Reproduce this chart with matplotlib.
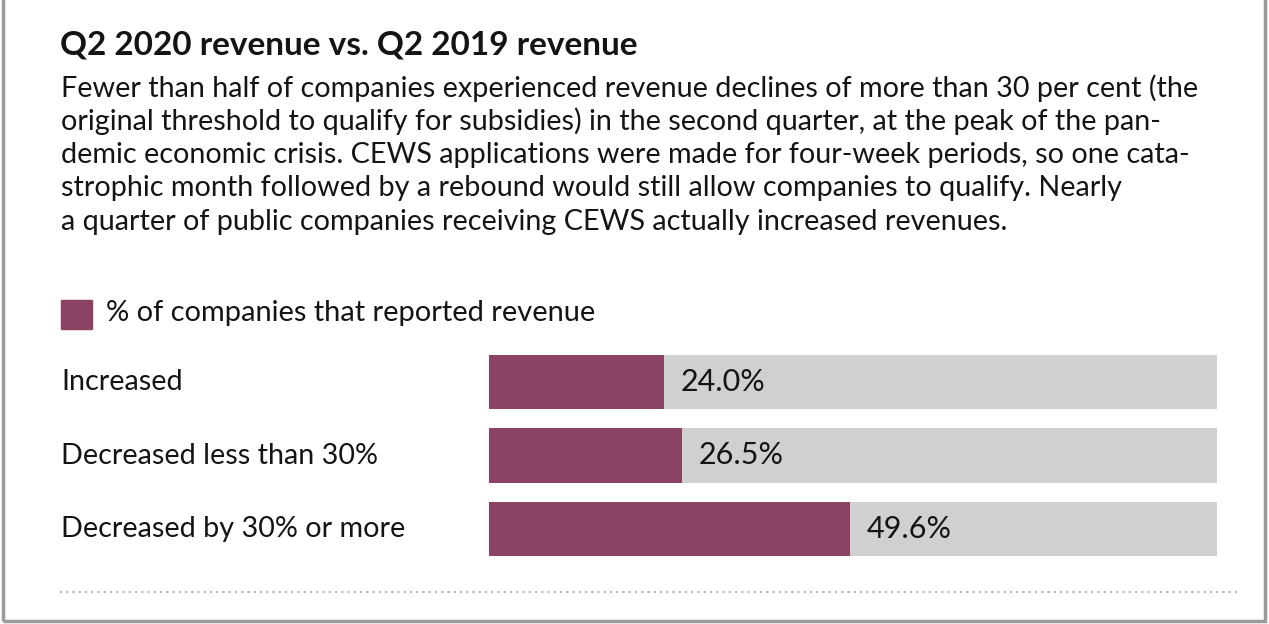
import matplotlib.pyplot as plt
from matplotlib.patches import Rectangle
from matplotlib.lines import Line2D

W, H = 1269, 624

title = "Q2 2020 revenue vs. Q2 2019 revenue"
blurb = [
    "Fewer than half of companies experienced revenue declines of more than 30 per cent (the",
    "original threshold to qualify for subsidies) in the second quarter, at the peak of the pan-",
    "demic economic crisis. CEWS applications were made for four-week periods, so one cata-",
    "strophic month followed by a rebound would still allow companies to qualify. Nearly",
    "a quarter of public companies receiving CEWS actually increased revenues.",
]
legend_label = "% of companies that reported revenue"
categories = ["Increased", "Decreased less than 30%", "Decreased by 30% or more"]
shares = [24.0, 26.5, 49.6]

bar_color = "#8c4363"
track_color = "#d0d0d0"
ink = "#141414"

plt.rcParams['font.family'] = ['Lato', 'DejaVu Sans']

fig = plt.figure(figsize=(W / 100, H / 100), dpi=100)
fig.patch.set_facecolor("white")


def fx(px):
    return px / W


def fy(py):
    return 1 - py / H


# frame around the card
fig.add_artist(Rectangle((fx(3), fy(621)), fx(1262), 621 / H + 0.02,
                         transform=fig.transFigure, fill=False,
                         edgecolor="#9a9a9a", linewidth=2.5))

fig.text(fx(60), fy(45), title, fontsize=24, fontweight="bold", color=ink, va="center")
for i, line in enumerate(blurb):
    fig.text(fx(61), fy(88 + i * 33.5), line, fontsize=20.7, color=ink, va="center")

# legend
fig.add_artist(Rectangle((fx(61), fy(329)), fx(31), 29 / H,
                         transform=fig.transFigure, color=bar_color))
fig.text(fx(106), fy(313), legend_label, fontsize=20.9, color=ink, va="center")

# bars
ax = fig.add_axes([fx(489), fy(566), fx(728), 221 / H])
ypos = range(len(categories))
ax.barh(ypos, [100] * len(categories), height=0.735, color=track_color)
ax.barh(ypos, shares, height=0.735, color=bar_color)
ax.set_xlim(0, 100)
ax.set_ylim(2.5, -0.5)
ax.axis("off")

for y, v, cat in zip(ypos, shares, categories):
    ax.text(v + 2.3, y, f"{v:.1f}%", fontsize=22, color=ink, va="center")
    fig.text(fx(61), fy(382 + y * 73.5), cat, fontsize=20.7, color=ink, va="center")

# dotted rule at the bottom
fig.add_artist(Line2D([fx(60), fx(1240)], [fy(592), fy(592)], transform=fig.transFigure,
                      color="#b5b5b5", linewidth=1.5, linestyle=(0, (1, 2))))

fig.savefig("out.png", dpi=100)
